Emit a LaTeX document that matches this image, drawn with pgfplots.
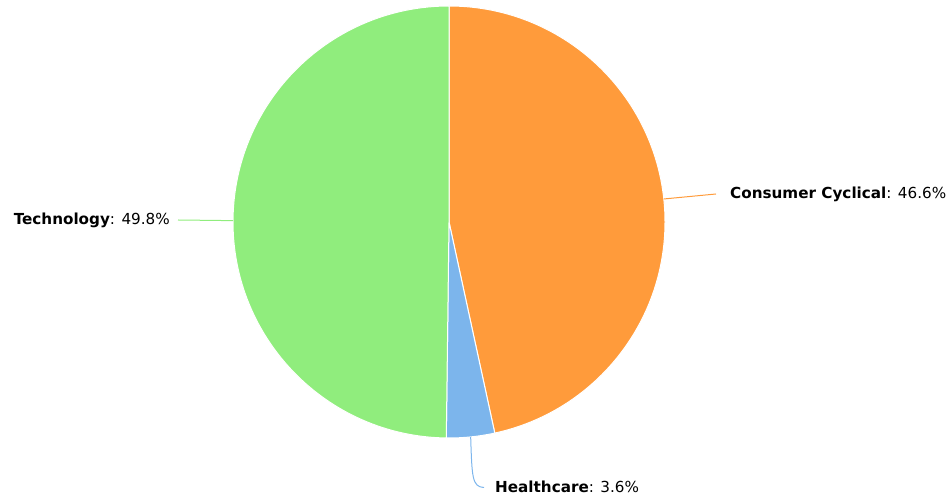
\documentclass[border=0pt]{standalone}
\usepackage{pgfplots}
\pgfplotsset{compat=1.18}
\usepackage{fontspec}
\setmainfont{DejaVu Sans}
\definecolor{consC}{HTML}{FF9B3B}
\definecolor{healthC}{HTML}{7CB5EC}
\definecolor{techC}{HTML}{90ED7D}

\begin{document}
\begin{tikzpicture}
\useasboundingbox (0,0) rectangle (951bp,497bp);
% shares in percent, clockwise from 12 o'clock
\pgfmathsetmacro{\pCons}{46.6}
\pgfmathsetmacro{\pHealth}{3.6}
\pgfmathsetmacro{\pTech}{49.8}
\pgfmathsetmacro{\aA}{90}
\pgfmathsetmacro{\aB}{\aA-3.6*\pCons}
\pgfmathsetmacro{\aC}{\aB-3.6*\pHealth}
\pgfmathsetmacro{\aD}{\aC-3.6*\pTech}
\pgfmathsetmacro{\mA}{(\aA+\aB)/2}
\pgfmathsetmacro{\mB}{(\aB+\aC)/2}
\pgfmathsetmacro{\mC}{(\aC+\aD)/2}
\def\R{216bp}
\begin{axis}[
    at={(0,0)}, anchor=south west,
    scale only axis, width=951bp, height=497bp,
    xmin=0, xmax=951, ymin=0, ymax=497,
    hide axis, clip=false,
  ]
  % slices
  \fill[consC, draw=white, line width=1bp] (axis cs:449,275) -- ++(\aA:\R)
    arc[start angle=\aA, end angle=\aB, radius=\R] -- cycle;
  \fill[healthC, draw=white, line width=1bp] (axis cs:449,275) -- ++(\aB:\R)
    arc[start angle=\aB, end angle=\aC, radius=\R] -- cycle;
  \fill[techC, draw=white, line width=1bp] (axis cs:449,275) -- ++(\aC:\R)
    arc[start angle=\aC, end angle=\aD, radius=\R] -- cycle;
  % connectors
  \draw[consC, line width=1bp] (axis cs:449,275) ++(\mA:\R) -- (axis cs:716,303);
  \draw[healthC, line width=1bp] (axis cs:449,275) ++(\mB:\R)
    .. controls (axis cs:472,20) and (axis cs:472,10) .. (axis cs:484,9.5);
  \draw[techC, line width=1bp] (axis cs:449,275) ++(\mC:\R) -- (axis cs:178,277);
  % labels
  \tikzset{lbl/.style={inner sep=0pt, font=\fontsize{15.2bp}{17bp}\selectfont}}
  \node[lbl, anchor=west] at (axis cs:730,303) {\textbf{Consumer Cyclical}: 46.6\%};
  \node[lbl, anchor=west] at (axis cs:495,10) {\textbf{Healthcare}: 3.6\%};
  \node[lbl, anchor=east] at (axis cs:170,277) {\textbf{Technology}: 49.8\%};
\end{axis}
\end{tikzpicture}
\end{document}
